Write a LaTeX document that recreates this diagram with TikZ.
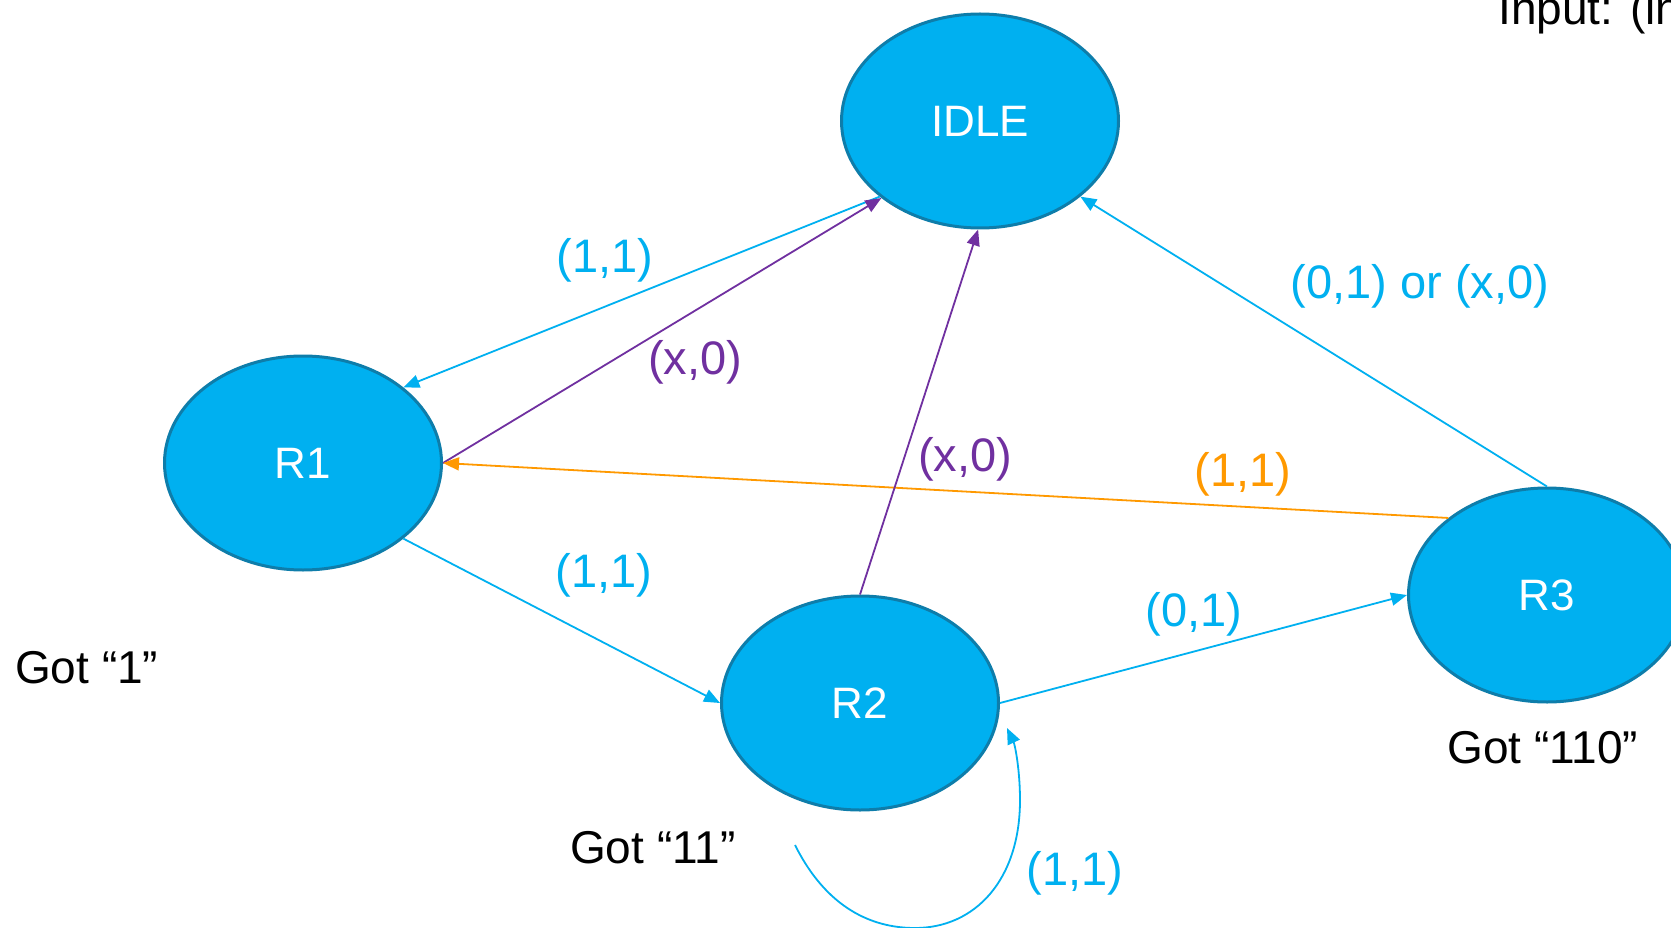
\documentclass[tikz,border=0pt]{standalone}
\usepackage{fontspec}
\setmainfont{Liberation Sans}
\usetikzlibrary{shapes.geometric,arrows.meta}
\definecolor{stateblue}{HTML}{00B0F0}
\definecolor{stateedge}{HTML}{0E7DAA}
\definecolor{edgepurple}{HTML}{7030A0}
\definecolor{edgeorange}{HTML}{FF9900}
\tikzset{
  state/.style={ellipse, draw=stateedge, line width=3pt, fill=stateblue,
    text=white, minimum width=277pt, minimum height=214pt, inner sep=0pt,
    font=\fontsize{44}{50}\selectfont},
  trans/.style={line width=1.8pt, -{Triangle[length=16pt,width=13pt]}},
  lbl/.style={font=\fontsize{47}{54}\selectfont, inner sep=0pt},
  note/.style={font=\fontsize{46}{54}\selectfont, inner sep=0pt, anchor=base west},
}
\begin{document}
\begin{tikzpicture}[x=1pt,y=-1pt]
\clip (0,0) rectangle (1671,928);
\fill[white] (0,0) rectangle (1671,928);

% states
\node[state] (idle) at (980,121) {IDLE};
\node[state] (r1) at (303,463) {R1};
\node[state] (r2) at (860,703) {R2};
\node[state] (r3) at (1547,595) {R3};

% transitions
\draw[trans, stateblue] (idle.217) -- (r1.37);
\draw[trans, edgepurple] (r1.east) -- (idle.218);
\draw[trans, edgeorange] (r3.142) -- (r1.east);
\draw[trans, stateblue] (r1.-37) -- (r2.west);
\draw[trans, edgepurple] (r2.north) -- (idle.269);
\draw[trans, stateblue] (r2.east) -- (r3.west);
\draw[trans, stateblue] (r3.north) -- (idle.323);

% self loop on R2
\coordinate (loopstart) at (795,845);
\coordinate (loopend) at (1007,728);
\draw[trans, stateblue] (loopstart) .. controls (830,915) and (880,928) .. (915,928)
  .. controls (975,928) and (1020,880) .. (1020,800)
  .. controls (1020,770) and (1015,745) .. (loopend);

% transition labels
\node[lbl, text=stateblue] (l1) at (605,260) {(1,1)};
\node[lbl, text=edgepurple] (l2) at (695,362) {(x,0)};
\node[lbl, text=edgepurple] (l3) at (965,459) {(x,0)};
\node[lbl, text=edgeorange] (l4) at (1243,474) {(1,1)};
\node[lbl, text=stateblue] (l5) at (604,575) {(1,1)};
\node[lbl, text=stateblue] (l6) at (1194,614) {(0,1)};
\node[lbl, text=stateblue] (l7) at (1420,286) {(0,1) or (x,0)};
\node[lbl, text=stateblue] (l8) at (1075,873) {(1,1)};

% state notes
\node[note] (n1) at (15,683) {Got “1”};
\node[note] (n2) at (570,863) {Got “11”};
\node[note] (n3) at (1447,763) {Got “110”};
\node[note] (inp) at (1498,25) {Input: (in};
\end{tikzpicture}
\end{document}
